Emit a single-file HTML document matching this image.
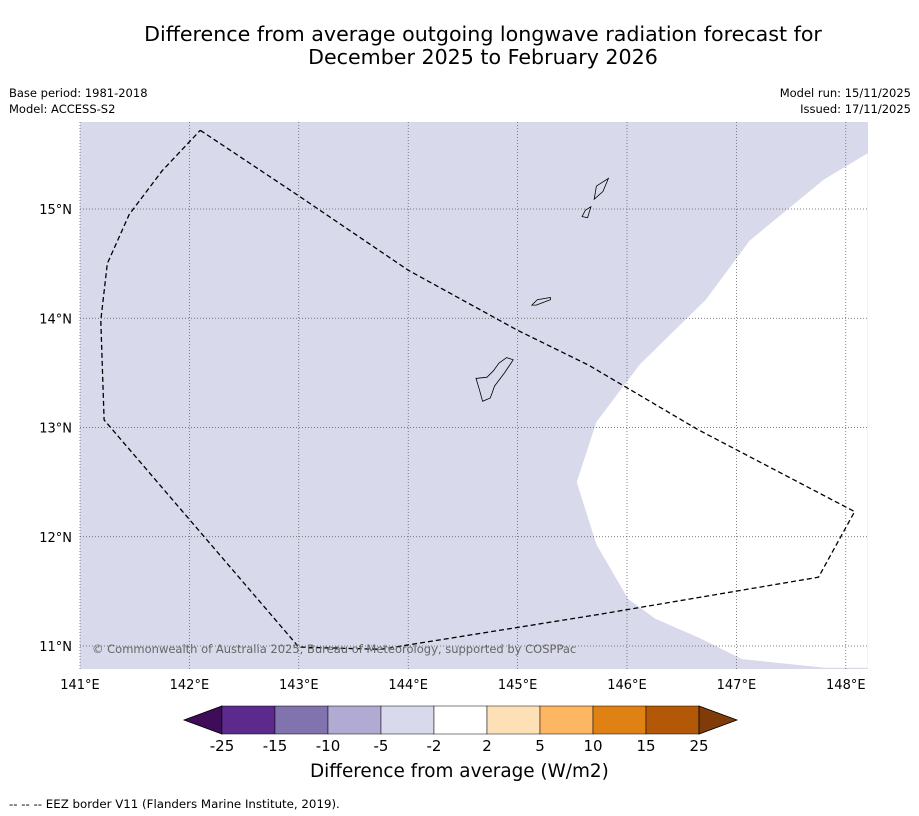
<!DOCTYPE html>
<html><head><meta charset="utf-8"><style>
body{margin:0;background:#fff;font-family:"DejaVu Sans",sans-serif;}
#wrap{position:relative;width:919px;height:816px;overflow:hidden}
.t{position:absolute;white-space:nowrap}
</style></head><body>
<div id="wrap">
<div class="t" style="left:0;width:966px;top:23px;text-align:center;font-size:20.6px;line-height:23px">Difference from average outgoing longwave radiation forecast for<br>December 2025 to February 2026</div>
<div class="t" style="left:9px;top:85px;font-size:11.5px;line-height:16px">Base period: 1981-2018<br>Model: ACCESS-S2</div>
<div class="t" style="right:8px;top:85px;font-size:11.5px;line-height:16px;text-align:right">Model run: 15/11/2025<br>Issued: 17/11/2025</div>
<svg id="map" width="919" height="816" style="position:absolute;left:0;top:0"></svg>
<div class="t" style="left:310px;top:761px;font-size:18.4px">Difference from average (W/m2)</div>
<div class="t" style="left:9px;top:797px;font-size:11.8px">--  --  -- EEZ border V11 (Flanders Marine Institute, 2019).</div>
</div>
<script>
const lonTicks=[141,142,143,144,145,146,147,148];
const latTicks=[11,12,13,14,15];
const eezLon=[142.1,143.0,144.0,145.0,145.65,146.65,148.08,147.75,145.75,143.75,143.0,141.22,141.19,141.25,141.45,141.75,142.1];
const eezLat=[15.72,15.12,14.44,13.89,13.57,12.98,12.23,11.63,11.29,10.97,10.99,13.07,13.98,14.5,14.95,15.35,15.72];
const whiteLon=[148.2,147.8,147.12,146.72,146.12,145.72,145.54,145.72,146.01,146.26,146.67,147.05,147.81,148.2];
const whiteLat=[15.51,15.27,14.71,14.17,13.58,13.05,12.5,11.93,11.43,11.25,11.07,10.88,10.8,10.8];
const guamLon=[144.63,144.72,144.78,144.83,144.9,144.96,144.88,144.79,144.75,144.68,144.65,144.62];
const guamLat=[13.45,13.46,13.52,13.59,13.64,13.62,13.5,13.38,13.27,13.24,13.35,13.45];
const rotaLon=[145.13,145.18,145.3,145.3,145.22,145.17,145.13];
const rotaLat=[14.12,14.17,14.19,14.17,14.14,14.12,14.12];
const saipanLon=[145.7,145.72,145.83,145.78,145.7];
const saipanLat=[15.09,15.21,15.28,15.16,15.09];
const tinianLon=[145.59,145.62,145.67,145.64,145.59];
const tinianLat=[14.93,14.99,15.02,14.92,14.93];
const cbLabels=["-25","-15","-10","-5","-2","2","5","10","15","25"];
const cbColors=["#5b2a8c","#8173ad","#b1aad2","#d8d9eb","#ffffff","#fde0b6","#fdb762","#e08114","#b35806"];
const X0=80,X1=868,Y0=122,Y1=669;
const x=lon=>80+(lon-141)*109.4;
const y=lat=>209+(15-lat)*109.25;
const svg=document.getElementById('map');
const NS='http://www.w3.org/2000/svg';
const FF='DejaVu Sans, sans-serif';
function mk(t,a){const e=document.createElementNS(NS,t);for(const k in a)e.setAttribute(k,a[k]);svg.appendChild(e);return e;}
function pts(lo,la){return lo.map((v,i)=>x(v).toFixed(1)+','+y(la[i]).toFixed(1)).join(' ');}
let e=mk('rect',{x:X0,y:Y0,width:X1-X0,height:Y1-Y0,fill:'#d8d9ea'});

const cp=mk('clipPath',{id:'cp'});
const cr=document.createElementNS(NS,'rect');cr.setAttribute('x',X0);cr.setAttribute('y',Y0);cr.setAttribute('width',X1-X0);cr.setAttribute('height',Y1-Y0);cp.appendChild(cr);
e=mk('polygon',{points:pts(whiteLon,whiteLat),fill:'#fff','clip-path':'url(#cp)'});

lonTicks.forEach(v=>{e=mk('line',{x1:x(v),x2:x(v),y1:Y0,y2:Y1,stroke:'#555','stroke-width':0.7,'stroke-dasharray':'1,2'});

e=mk('text',{x:x(v),y:689,'font-size':13,'text-anchor':'middle','font-family':FF});e.textContent=v+'°E';
});
latTicks.forEach(v=>{e=mk('line',{x1:X0,x2:X1,y1:y(v),y2:y(v),stroke:'#555','stroke-width':0.7,'stroke-dasharray':'1,2'});

e=mk('text',{x:72,y:y(v)+5,'font-size':13,'text-anchor':'end','font-family':FF});e.textContent=v+'°N';
});
e=mk('polyline',{points:pts(eezLon,eezLat),fill:'none',stroke:'#000','stroke-width':1.3,'stroke-dasharray':'5,3'});

[[guamLon,guamLat,'guam'],[rotaLon,rotaLat,'rota'],[saipanLon,saipanLat,'saipan'],[tinianLon,tinianLat,'tinian']].forEach(([a,b,n])=>{
e=mk('polygon',{points:pts(a,b),fill:'#d8d9ea',stroke:'#000','stroke-width':0.8});
});
e=mk('text',{x:92,y:653,'font-size':11.5,fill:'#666','font-family':FF});e.textContent='© Commonwealth of Australia 2025, Bureau of Meteorology, supported by COSPPac';

const cx0=222,cw=53,cy=706,ch=28;
e=mk('polygon',{points:`184,${cy+ch/2} ${cx0},${cy} ${cx0},${cy+ch}`,fill:'#3f0c5a',stroke:'#000','stroke-width':0.8});

cbColors.forEach((c,i)=>{e=mk('rect',{x:cx0+i*cw,y:cy,width:cw,height:ch,fill:c,stroke:'#000','stroke-width':0.5});
});
const xe=cx0+cbColors.length*cw;
e=mk('polygon',{points:`${xe},${cy} ${xe+38},${cy+ch/2} ${xe},${cy+ch}`,fill:'#7f3b08',stroke:'#000','stroke-width':0.8});

cbLabels.forEach((l,i)=>{e=mk('text',{x:cx0+i*cw,y:751,'font-size':15,'text-anchor':'middle','font-family':FF});e.textContent=l;
});
</script>
</body></html>
